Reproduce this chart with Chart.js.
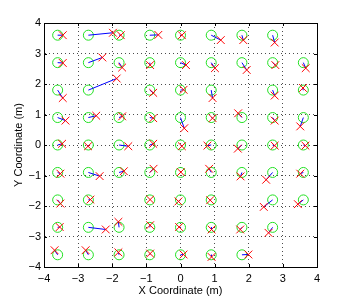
<!DOCTYPE html>
<html>
<head>
<meta charset="utf-8">
<script src="https://cdn.jsdelivr.net/npm/chart.js@4.4.0/dist/chart.umd.min.js"></script>
<style>
  body { margin: 0; background: #fff; }
</style>
</head>
<body>
<canvas id="loc-chart" width="350" height="300"></canvas>
<script>
// reference grid nodes (row by row, top to bottom)
const nodeX = [
    -3.6, -2.7, -1.8, -0.9, 0, 0.9, 1.8, 2.7,
    -3.6, -2.7, -1.8, -0.9, 0, 0.9, 1.8, 2.7, 3.6,
    -3.6, -2.7, -0.9, 0, 0.9, 2.7, 3.6,
    -3.6, -2.7, -1.8, -0.9, 0, 0.9, 1.8, 2.7, 3.6,
    -3.6, -2.7, -1.8, -0.9, 0, 0.9, 1.8, 2.7, 3.6,
    -3.6, -2.7, -1.8, -0.9, 0, 0.9, 1.8, 2.7, 3.6,
    -3.6, -2.7, -0.9, 0, 0.9, 2.7, 3.6,
    -3.6, -2.7, -1.8, -0.9, 0, 0.9, 1.8, 2.7,
    -3.6, -2.7, -1.8, -0.9, 0, 0.9, 1.8
];
const nodeY = [
    3.6, 3.6, 3.6, 3.6, 3.6, 3.6, 3.6, 3.6,
    2.7, 2.7, 2.7, 2.7, 2.7, 2.7, 2.7, 2.7, 2.7,
    1.8, 1.8, 1.8, 1.8, 1.8, 1.8, 1.8,
    0.9, 0.9, 0.9, 0.9, 0.9, 0.9, 0.9, 0.9, 0.9,
    0, 0, 0, 0, 0, 0, 0, 0, 0,
    -0.9, -0.9, -0.9, -0.9, -0.9, -0.9, -0.9, -0.9, -0.9,
    -1.8, -1.8, -1.8, -1.8, -1.8, -1.8, -1.8,
    -2.7, -2.7, -2.7, -2.7, -2.7, -2.7, -2.7, -2.7,
    -3.6, -3.6, -3.6, -3.6, -3.6, -3.6, -3.6
];
// estimated positions, same order
const estX = [
    -3.45, -1.98, -1.75, -0.65, 0.04, 1.18, 1.84, 2.76,
    -3.45, -2.29, -1.71, -0.89, 0.16, 1.01, 1.94, 2.78, 3.67,
    -3.45, -1.87, -0.80, 0.09, 0.94, 2.76, 3.59,
    -3.37, -2.47, -1.71, -0.80, 0.11, 0.94, 1.69, 2.76, 3.51,
    -3.47, -2.71, -1.53, -0.80, 0.04, 0.79, 1.68, 2.76, 3.66,
    -3.52, -2.37, -1.66, -0.79, 0.01, 0.84, 1.76, 2.51, 3.51,
    -3.52, -2.64, -0.89, -0.06, 0.87, 2.44, 3.44,
    -3.54, -2.19, -1.82, -0.89, -0.04, 0.91, 1.75, 2.58,
    -3.69, -2.78, -1.82, -0.89, 0.09, 0.91, 1.99
];
const estY = [
    3.60, 3.68, 3.60, 3.61, 3.60, 3.44, 3.44, 3.36,
    2.69, 2.87, 2.54, 2.62, 2.62, 2.52, 2.46, 2.62, 2.52,
    1.54, 2.18, 1.71, 1.81, 1.54, 1.62, 1.87,
    0.80, 0.96, 0.94, 0.88, 0.55, 0.88, 1.04, 0.80, 0.61,
    0.04, -0.04, -0.04, 0.04, -0.04, -0.02, -0.12, -0.02, -0.02,
    -0.94, -1.02, -0.86, -0.78, -0.89, -0.78, -1.03, -1.14, -0.94,
    -1.92, -1.79, -1.79, -1.85, -1.81, -2.03, -1.94,
    -2.69, -2.77, -2.52, -2.63, -2.69, -2.77, -2.77, -2.88,
    -3.45, -3.45, -3.52, -3.56, -3.59, -3.67, -3.59
];
const axisTicks = [-4, -3, -2, -1, 0, 1, 2, 3, 4];

const nodes = nodeX.map((x, i) => ({ x: x, y: nodeY[i] }));
const ests = estX.map((x, i) => ({ x: x, y: estY[i] }));
const pairs = [];
nodes.forEach((p, i) => { pairs.push(p); pairs.push(ests[i]); });

const font = { family: "'Liberation Sans', Arial, sans-serif", size: 11 };

// full box + inward ticks like matlab
const boxPlugin = {
    id: 'box',
    beforeDatasetsDraw(chart) {
        const { ctx, chartArea: a, scales } = chart;
        ctx.save();
        ctx.strokeStyle = '#000';
        ctx.lineWidth = 1;
        ctx.setLineDash([]);
        ctx.beginPath();
        axisTicks.forEach(v => {
            const px = Math.round(scales.x.getPixelForValue(v)) + 0.5;
            const py = Math.round(scales.y.getPixelForValue(v)) + 0.5;
            ctx.moveTo(px, a.bottom); ctx.lineTo(px, a.bottom - 3);
            ctx.moveTo(px, a.top); ctx.lineTo(px, a.top + 3);
            ctx.moveTo(a.left, py); ctx.lineTo(a.left + 3, py);
            ctx.moveTo(a.right, py); ctx.lineTo(a.right - 3, py);
        });
        ctx.stroke();
        ctx.strokeRect(Math.round(a.left) + 0.5, Math.round(a.top) + 0.5,
            Math.round(a.right - a.left), Math.round(a.bottom - a.top));
        ctx.restore();
    }
};

const gridOpts = {
    color: 'rgba(0,0,0,0.7)',
    drawTicks: false,
};
const borderOpts = { color: '#000', dash: [1, 3] };

new Chart(document.getElementById('loc-chart'), {
    type: 'scatter',
    data: {
        datasets: [
            {
                label: 'estimate',
                data: ests,
                pointStyle: 'crossRot',
                pointRadius: 5.5,
                borderColor: '#ff0000',
                borderWidth: 1,
                order: 0,
            },
            {
                label: 'error',
                data: pairs,
                showLine: true,
                pointRadius: 0,
                borderWidth: 1,
                borderColor: '#0000ff',
                segment: {
                    borderColor: c => (c.p0DataIndex % 2 ? 'transparent' : '#0000ff'),
                },
                order: 1,
            },
            {
                label: 'node',
                data: nodes,
                pointStyle: 'circle',
                pointRadius: 5,
                backgroundColor: 'transparent',
                borderColor: '#22e022',
                borderWidth: 1,
                order: 2,
            },
        ],
    },
    options: {
        responsive: false,
        animation: false,
        devicePixelRatio: 1,
        layout: { padding: { top: 23, right: 33, left: 0, bottom: 0 } },
        plugins: {
            legend: { display: false },
            tooltip: { enabled: false },
        },
        scales: {
            x: {
                type: 'linear',
                min: -4,
                max: 4,
                afterFit: s => { s.height = 33; },
                afterBuildTicks: s => { s.ticks = axisTicks.map(v => ({ value: v })); },
                ticks: {
                    font: font,
                    color: '#000',
                    padding: 5,
                    callback: v => String(v).replace('-', '\u2212'),
                },
                grid: gridOpts,
                border: borderOpts,
                title: {
                    display: true,
                    text: 'X Coordinate (m)',
                    font: font,
                    color: '#000',
                    padding: { top: 0, bottom: 2 },
                },
            },
            y: {
                type: 'linear',
                min: -4,
                max: 4,
                afterFit: s => { s.width = 44; },
                afterBuildTicks: s => { s.ticks = axisTicks.map(v => ({ value: v })); },
                ticks: {
                    font: font,
                    color: '#000',
                    padding: 3,
                    callback: v => String(v).replace('-', '\u2212'),
                },
                grid: gridOpts,
                border: borderOpts,
                title: {
                    display: true,
                    text: 'Y Coordinate (m)',
                    font: font,
                    color: '#000',
                    padding: { top: 12, bottom: 0 },
                },
            },
        },
    },
    plugins: [boxPlugin],
});
</script>
</body>
</html>
